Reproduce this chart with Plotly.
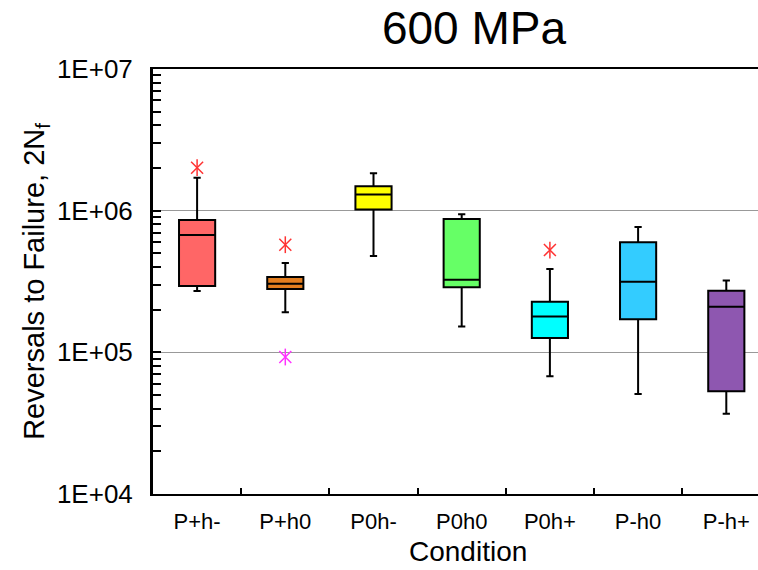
import plotly.graph_objects as go

categories = ["P+h-", "P+h0", "P0h-", "P0h0", "P0h+", "P-h0", "P-h+"]
q1 = [2.94e5, 2.80e5, 1.02e6, 2.88e5, 1.26e5, 1.71e5, 5.31e4]
median = [6.73e5, 3.05e5, 1.30e6, 3.26e5, 1.79e5, 3.15e5, 2.10e5]
q3 = [8.60e5, 3.40e5, 1.49e6, 8.73e5, 2.28e5, 5.99e5, 2.72e5]
lower_whisker = [2.71e5, 1.92e5, 4.79e5, 1.52e5, 6.78e4, 5.08e4, 3.69e4]
upper_whisker = [1.71e6, 4.27e5, 1.84e6, 9.42e5, 3.87e5, 7.67e5, 3.21e5]
box_colors = ["#ff6666", "#e27d1f", "#ffff00", "#66ff66", "#00ffff", "#33ccff", "#8e57b0"]

outlier_hi_cat = ["P+h-", "P+h0", "P0h+"]
outlier_hi_val = [2.01e6, 5.75e5, 5.27e5]
outlier_lo_cat = ["P+h0"]
outlier_lo_val = [9.27e4]

ytick_vals = [1e4, 1e5, 1e6, 1e7]
ytick_text = ["1E+04", "1E+05", "1E+06", "1E+07"]
minor_mults = [2, 3, 4, 5, 6, 7, 8, 9]

FONT = "Liberation Sans, Arial, sans-serif"

fig = go.Figure()
for i, c in enumerate(categories):
    fig.add_trace(go.Box(
        x=[c], q1=[q1[i]], median=[median[i]], q3=[q3[i]],
        lowerfence=[lower_whisker[i]], upperfence=[upper_whisker[i]],
        fillcolor=box_colors[i], line=dict(color="black", width=2),
        width=0.41, whiskerwidth=0.2, boxpoints=False, showlegend=False,
        hoverinfo="skip",
    ))

for cats, vals, col in [(outlier_hi_cat, outlier_hi_val, "#ff3333"),
                        (outlier_lo_cat, outlier_lo_val, "#ff33ff")]:
    for sym in ["x-thin-open", "line-ns-open"]:
        fig.add_trace(go.Scatter(
            x=cats, y=vals, mode="markers", showlegend=False,
            marker=dict(symbol=sym, size=12, color=col,
                        line=dict(color=col, width=1.5)),
        ))

minor_vals = [m * d for d in ytick_vals[:-1] for m in minor_mults]

fig.update_layout(
    width=758, height=570,
    margin=dict(l=153, r=0, t=69, b=76, autoexpand=False),
    paper_bgcolor="white", plot_bgcolor="white",
    boxmode="overlay",
    font=dict(family=FONT, color="black"),
    title=dict(text="600 MPa", font=dict(size=46, family=FONT, color="black"),
               x=474 / 758, xref="container", xanchor="center",
               y=1 - 28 / 570, yref="container", yanchor="middle", automargin=False),
    annotations=[dict(text="Condition", xref="paper", yref="paper",
                      x=0.52, y=-0.135, xanchor="center", yanchor="middle",
                      showarrow=False, font=dict(size=28, family=FONT, color="black"))],
)

fig.update_xaxes(
    type="category", categoryorder="array", categoryarray=categories,
    range=[-0.5, -0.5 + (758 - 153) / 88.2],
    showline=True, linecolor="black", linewidth=2, mirror=True,
    ticks="inside", tickson="boundaries", ticklen=6, tickwidth=2, tickcolor="black",
    tickfont=dict(size=22, family=FONT, color="black"),
    ticklabelstandoff=7,
    showgrid=False, zeroline=False, automargin=False,
)

fig.update_yaxes(
    type="log", range=[4, 7],
    tickvals=ytick_vals, ticktext=ytick_text,
    showline=True, linecolor="black", linewidth=3, mirror=False,
    ticks="inside", ticklen=8, tickwidth=2, tickcolor="black",
    minor=dict(ticks="inside", ticklen=8, tickwidth=2, tickcolor="black",
               tickmode="array", tickvals=minor_vals, showgrid=False),
    tickfont=dict(size=26, family=FONT, color="black"),
    ticklabelstandoff=12,
    showgrid=True, gridcolor="#999999", gridwidth=1,
    zeroline=False, automargin=False,
    title=dict(text="Reversals to Failure, 2N<sub>f</sub>",
               font=dict(size=29, family=FONT, color="black"), standoff=4),
)

fig.write_html(
    "out.html",
    config={"displayModeBar": False},
    post_script="document.body.style.margin='0';document.body.style.padding='0';",
)
